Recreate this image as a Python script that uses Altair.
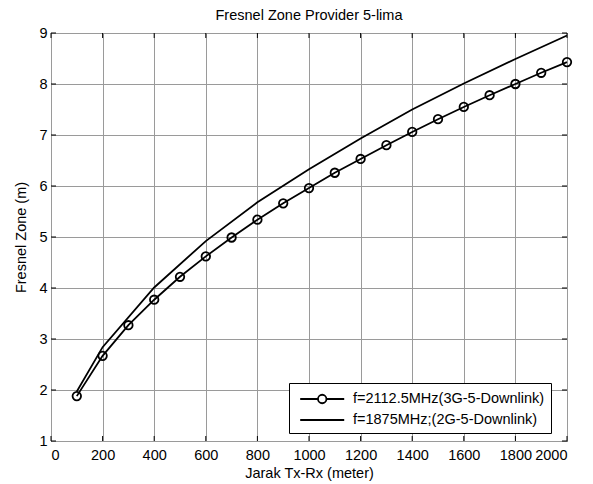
import altair as alt
import pandas as pd

# ---- data ----
x_ticks = list(range(0, 2001, 200))
y_ticks = list(range(1, 10))

dist_3g = list(range(100, 2001, 100))
fz_3g = [1.88, 2.67, 3.27, 3.77, 4.22, 4.62, 4.99, 5.34, 5.66, 5.96,
         6.26, 6.53, 6.80, 7.06, 7.31, 7.55, 7.78, 8.00, 8.22, 8.43]

dist_2g = [100, 200, 400, 600, 800, 1000, 1200, 1400, 1600, 1800, 2000]
fz_2g = [1.97, 2.84, 4.01, 4.92, 5.68, 6.33, 6.93, 7.50, 8.01, 8.49, 8.95]

label_3g = "f=2112.5MHz(3G-5-Downlink)"
label_2g = "f=1875MHz;(2G-5-Downlink)"
series_labels = [label_3g, label_2g]

title_text = "Fresnel Zone Provider 5-lima"
x_title = "Jarak Tx-Rx (meter)"
y_title = "Fresnel Zone (m)"

W, H = 516, 408
FONT = "Liberation Sans"
FS = 14.5

df3 = pd.DataFrame({"d": dist_3g, "fz": fz_3g})
df2 = pd.DataFrame({"d": dist_2g, "fz": fz_2g})
dfx = pd.DataFrame({"t": x_ticks})
dfy = pd.DataFrame({"t": y_ticks})
dfleg = pd.DataFrame({"series": series_labels})

xs = alt.Scale(domain=[0, 2000], nice=False, zero=False)
ys = alt.Scale(domain=[1, 9], nice=False, zero=False)

common_axis = dict(grid=True, ticks=False, domain=False,
                   labelFont=FONT, labelFontSize=FS, labelColor="black",
                   titleFont=FONT, titleFontSize=FS, titleColor="black",
                   titleFontWeight="normal", gridColor="#9a9a9a",
                   gridWidth=1, gridOpacity=1)
x_axis = alt.Axis(values=x_ticks, title=x_title, format="d",
                  labelPadding=7, titlePadding=5, **common_axis)
y_axis = alt.Axis(values=y_ticks, title=y_title, format="d",
                  labelPadding=4, titlePadding=10, **common_axis)

line2g = alt.Chart(df2).mark_line(color="black", strokeWidth=1.8).encode(
    x=alt.X("d:Q", scale=xs, axis=x_axis),
    y=alt.Y("fz:Q", scale=ys, axis=y_axis))
line3g = alt.Chart(df3).mark_line(color="black", strokeWidth=1.8).encode(
    x=alt.X("d:Q", scale=xs), y=alt.Y("fz:Q", scale=ys))
pts3g = alt.Chart(df3).mark_point(shape="circle", filled=False, color="black",
                                  size=72, strokeWidth=1.8, opacity=1).encode(
    x=alt.X("d:Q", scale=xs), y=alt.Y("fz:Q", scale=ys))

# inward ticks on all four sides (MATLAB box style)
TL = 5
tick_bottom = alt.Chart(dfx).mark_rule(color="black", strokeWidth=1).encode(
    x=alt.X("t:Q", scale=xs), y=alt.value(H), y2=alt.value(H - TL))
tick_top = alt.Chart(dfx).mark_rule(color="black", strokeWidth=1).encode(
    x=alt.X("t:Q", scale=xs), y=alt.value(0), y2=alt.value(TL))
tick_left = alt.Chart(dfy).mark_rule(color="black", strokeWidth=1).encode(
    y=alt.Y("t:Q", scale=ys), x=alt.value(0), x2=alt.value(TL))
tick_right = alt.Chart(dfy).mark_rule(color="black", strokeWidth=1).encode(
    y=alt.Y("t:Q", scale=ys), x=alt.value(W - TL), x2=alt.value(W))

# legend symbols: line with circle marker, plain line
path_marker = ("M-1,0L1.02,0M1.98,0L4,0"
               "M1.02,0A0.48,0.48,0,1,1,1.98,0A0.48,0.48,0,1,1,1.02,0")
path_line = "M-1,0L4,0"

legend_layer = alt.Chart(dfleg).transform_filter("false").mark_point(
    filled=False, color="black", size=310, strokeWidth=1.8, opacity=1
).encode(
    shape=alt.Shape(
        "series:N",
        scale=alt.Scale(domain=series_labels, range=[path_marker, path_line]),
        legend=alt.Legend(
            title=None, orient="none", legendX=238, legendY=350,
            strokeColor="black", fillColor="white", padding=6,
            symbolSize=310, symbolStrokeWidth=1.8, symbolStrokeColor="black",
            symbolFillColor="transparent", symbolOpacity=1, symbolOffset=4,
            labelFontSize=FS, labelFont=FONT, labelColor="black",
            labelOffset=34, labelLimit=0, rowPadding=3,
        ),
    )
)

chart = alt.layer(
    line2g, line3g, pts3g, tick_bottom, tick_top, tick_left, tick_right,
    legend_layer,
).properties(
    width=W, height=H,
    background="white",
    title=alt.TitleParams(title_text, fontSize=FS, font=FONT,
                          fontWeight="normal", color="black", offset=1.5),
    autosize=alt.AutoSizeParams(type="none"),
    padding={"left": 43, "top": 25, "right": 18, "bottom": 45},
).configure_view(
    stroke="black", strokeWidth=1, fill="white"
)

chart.save("out.html", embed_options={"renderer": "svg", "actions": False})
